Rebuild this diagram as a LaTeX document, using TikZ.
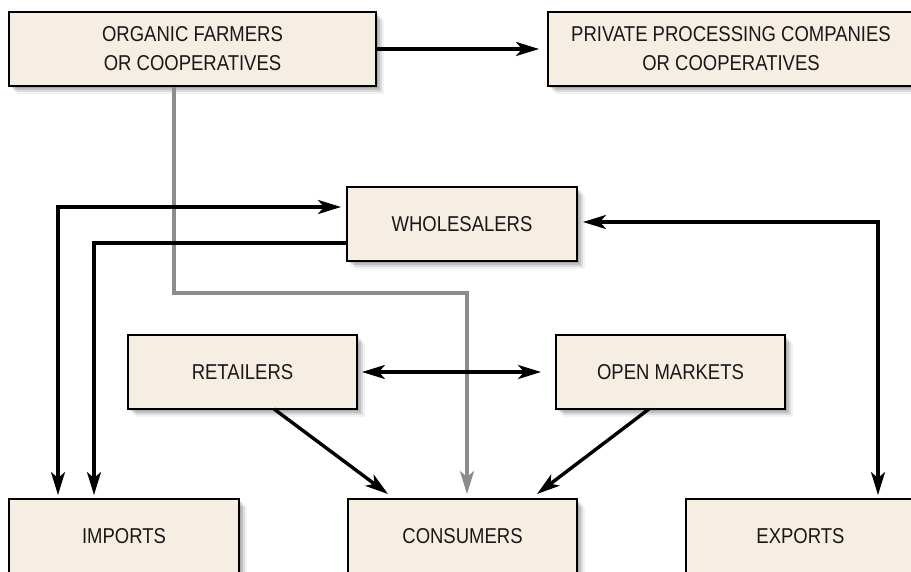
\documentclass[tikz,border=0pt]{standalone}
\usepackage{fontspec}
\setmainfont{Liberation Sans}[FakeStretch=0.86]
\usetikzlibrary{arrows.meta,shadows}
\definecolor{boxfill}{RGB}{247,238,227}
\definecolor{txt}{RGB}{24,24,24}
\definecolor{grayline}{RGB}{140,140,140}
\begin{document}
\begin{tikzpicture}[x=1pt,y=-1pt,
  box/.style={draw=black, line width=1.9pt, fill=boxfill, text=txt, align=center,
    inner sep=0pt, minimum height=74pt,
    font=\fontsize{21.5}{29}\selectfont,
    drop shadow={shadow xshift=2pt,shadow yshift=-2pt,opacity=0.12,fill=black},
    drop shadow={shadow xshift=4pt,shadow yshift=-4pt,opacity=0.12,fill=black},
    drop shadow={shadow xshift=6pt,shadow yshift=-6pt,opacity=0.09,fill=black},
    drop shadow={shadow xshift=8pt,shadow yshift=-8pt,opacity=0.05,fill=black}},
  tip/.tip={Stealth[length=23pt,width=14pt,inset=6pt]},
  conn/.style={draw=black, line width=3.4pt, line join=miter},
  gconn/.style={draw=grayline, line width=3.2pt, line join=miter}]
\useasboundingbox (0,0) rectangle (911,572);
\clip (0,0) rectangle (911,572);
\fill[white] (0,0) rectangle (911,572);

\node[box, minimum width=367pt] (org) at (192.5,49) {ORGANIC FARMERS\\OR COOPERATIVES};
\node[box, minimum width=366pt] (priv) at (731,49) {PRIVATE PROCESSING COMPANIES\\OR COOPERATIVES};
\node[box, minimum width=230pt] (whole) at (462,224) {WHOLESALERS};
\node[box, minimum width=229pt] (ret) at (242.5,372) {RETAILERS};
\node[box, minimum width=229pt] (om) at (670.5,372) {OPEN MARKETS};
\node[box, minimum width=230pt] (imp) at (124,536) {IMPORTS};
\node[box, minimum width=229pt] (cons) at (462.5,536) {CONSUMERS};
\node[box, minimum width=229pt] (exp) at (800.5,536) {EXPORTS};

\coordinate (g1) at (174,293);
\coordinate (g2) at (467,293);
\coordinate (c1) at (58,207);
\coordinate (c2) at (94,243);
\coordinate (c3) at (878,222);
\coordinate (r1) at (274,409);
\coordinate (r2) at (388,494);
\coordinate (o1) at (649,409);
\coordinate (o2) at (537,494);

% organic -> private
\draw[conn, -{tip}, shorten >=8pt] (org.east) -- (priv.west);
% gray path organic -> consumers
\draw[gconn, -{tip}, shorten >=4pt] (org.south -| g1) -- (g1) -- (g2) -- (g2 |- cons.north);
% imports <-> wholesalers
\draw[conn, {tip}-{tip}, shorten <=3pt, shorten >=5pt] (imp.north -| c1) -- (c1) -- (c1 -| whole.west);
% wholesalers -> imports
\draw[conn, -{tip}, shorten >=3pt] (c2 -| whole.west) -- (c2) -- (c2 |- imp.north);
% wholesalers <-> exports
\draw[conn, {tip}-{tip}, shorten <=5pt, shorten >=3pt] (c3 -| whole.east) -- (c3) -- (c3 |- exp.north);
% retailers <-> open markets
\draw[conn, {tip}-{tip}, shorten <=4pt, shorten >=14pt] (ret.east) -- (om.west);
% retailers -> consumers, open markets -> consumers
\draw[conn, -{tip}] (r1) -- (r2);
\draw[conn, -{tip}] (o1) -- (o2);
\end{tikzpicture}
\end{document}
